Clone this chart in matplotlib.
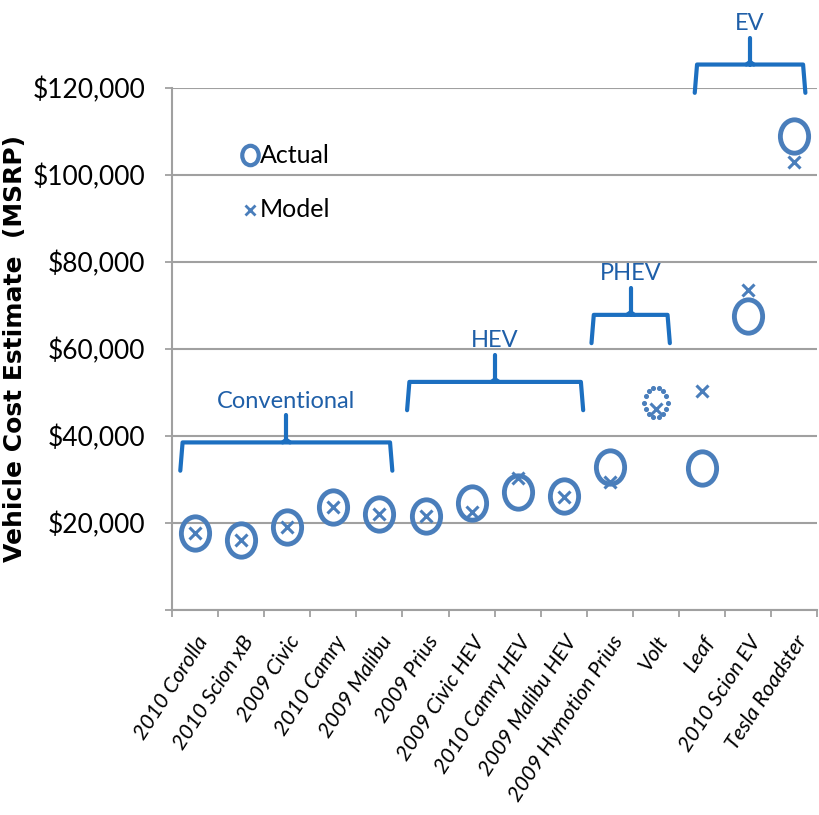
import matplotlib
matplotlib.use("Agg")
from matplotlib import pyplot as plt
from matplotlib.path import Path
from matplotlib.transforms import Affine2D
from matplotlib.ticker import FuncFormatter, FixedLocator
import numpy as np

vehicles = ["2010 Corolla", "2010 Scion xB", "2009 Civic", "2010 Camry",
            "2009 Malibu", "2009 Prius", "2009 Civic HEV", "2010 Camry HEV",
            "2009 Malibu HEV", "2009 Hymotion Prius", "Volt", "Leaf",
            "2010 Scion EV", "Tesla Roadster"]
actual = [17700, 16100, 19100, 23700, 22100, 21600, 24600, 27100,
          26200, 32900, 47600, 32600, 67600, 109000]
model = [17700, 16100, 19100, 23700, 22100, 21600, 22500, 30300,
         26000, 29400, 46200, 50300, 73600, 103000]
estimated = [False] * 10 + [True] + [False] * 3  # Volt actual is dotted

groups = ["Conventional", "HEV", "PHEV", "EV"]
group_span = [(-0.32, 4.28), (4.6, 8.42), (8.6, 10.3), (10.84, 13.24)]
group_level = [38500, 52400, 67800, 125300]

mark_col = "#4a7ebb"
brace_col = "#1c6fc0"
grid_col = "#a0a0a0"
FONT = ["Lato", "DejaVu Sans"]
plt.rcParams['font.family'] = FONT

# slightly tall ellipse like the original
ell = Path.unit_circle().transformed(Affine2D().scale(1.0, 1.18))

fig = plt.figure(figsize=(8.19, 8.15), dpi=100)
ax = fig.add_axes([0.21, 0.2515, 0.788, 0.641])

x = np.arange(len(vehicles))
solid = [i for i in x if not estimated[i]]
ax.plot(x[solid], np.array(actual)[solid], marker=ell, ms=24, mfc="none",
        mec=mark_col, mew=3.5, ls="none", zorder=3)
ax.plot(x, model, "x", color=mark_col, ms=9, mew=2.2, ls="none", zorder=4)

# dotted circle for Volt
for i in x:
    if estimated[i]:
        t = np.linspace(0, 2 * np.pi, 15)[:-1]
        ax.scatter(x[i] + 0.25 * np.cos(t), actual[i] + 3400 * np.sin(t),
                   s=7, color=mark_col, zorder=3)

# group braces
for name, (a, b), lev in zip(groups, group_span, group_level):
    mid = (a + b) / 2
    leg = 6500
    peak = 6200
    kw = dict(color=brace_col, lw=3, clip_on=False, solid_capstyle="round",
              solid_joinstyle="round")
    ax.plot([a, a + 0.05, b - 0.05, b], [lev - leg, lev, lev, lev - leg], **kw)
    ax.plot([mid - 0.08, mid, mid + 0.08], [lev, lev + 600, lev], **kw)
    ax.plot([mid, mid], [lev, lev + peak], **kw)
    ax.text(mid, lev + peak + 900, name, color="#1f5fa8", fontsize=17,
            ha="center", va="bottom", clip_on=False)

# legend drawn as text
ax.plot(1.19, 104500, marker=ell, ms=14, mfc="none", mec=mark_col, mew=3,
        clip_on=False)
ax.text(1.4, 104500, "Actual", fontsize=18, va="center")
ax.plot(1.19, 92000, "x", color=mark_col, ms=7, mew=2)
ax.text(1.4, 92000, "Model", fontsize=18, va="center")

ax.set_xlim(-0.5, 13.5)
ax.set_ylim(0, 120000)
ax.set_yticks(np.arange(0, 120001, 20000))
ax.yaxis.set_major_formatter(FuncFormatter(lambda v, p: "" if v == 0 else "${:,.0f}".format(v)))
ax.yaxis.grid(True, color=grid_col, lw=1.5)
ax.set_axisbelow(True)
ax.set_xticks(x)
ax.set_xticklabels(vehicles, rotation=57, ha="right", rotation_mode="anchor",
                   fontsize=15.5, style="italic")
ax.xaxis.set_minor_locator(FixedLocator(np.arange(-0.5, 13.6, 1)))
ax.tick_params(axis="x", which="major", length=0, pad=16)
ax.tick_params(axis="x", which="minor", length=5, color=grid_col, width=1.3)
ax.tick_params(axis="y", length=5, color=grid_col, width=1.3, labelsize=19, pad=14)

for s in ["top", "right"]:
    ax.spines[s].set_visible(False)
for s in ["left", "bottom"]:
    ax.spines[s].set_color(grid_col)
    ax.spines[s].set_linewidth(1.5)

ax.set_ylabel("Vehicle Cost Estimate  (MSRP)", fontsize=18, fontweight="bold",
              family=["DejaVu Sans"], labelpad=4)

plt.savefig("out.png", dpi=100)
